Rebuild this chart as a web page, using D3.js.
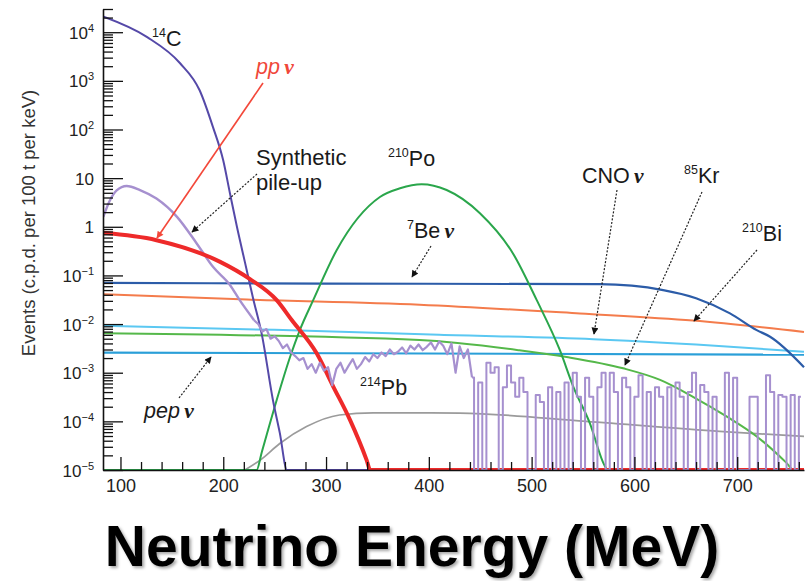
<!DOCTYPE html>
<html><head><meta charset="utf-8">
<script src="https://cdn.jsdelivr.net/npm/d3@7/dist/d3.min.js"></script>
<style>
html,body{margin:0;padding:0;background:#fff;overflow:hidden}
svg{display:block}
text{font-family:"Liberation Sans",Arial,Helvetica,sans-serif}
</style></head><body>
<svg id="chart" width="807" height="581"></svg>
<script>
// ================= DATA =================
const xMajorTicks = [100, 200, 300, 400, 500, 600, 700];
const yTickExponents = [-5, -4, -3, -2, -1, 0, 1, 2, 3, 4];

const c14Energy = [83, 126, 158, 177, 190, 200, 206.5, 213.3, 221, 229, 237.6, 248.3, 255, 262, 765];
const c14Value  = [2.1e4, 7900, 2300, 640, 112, 23, 4.9, 1.0, 0.19, 0.034, 6e-3, 2.75e-4, 5.8e-5, 1e-5, 1e-5];

const ppEnergy = [83, 135, 197, 226, 252, 266.6, 290.9, 307, 323.3, 339.5, 343, 765];
const ppValue  = [0.75, 0.53, 0.19, 0.084, 0.031, 0.0121, 2.5e-3, 5.2e-4, 1.07e-4, 1.6e-5, 1e-5, 1e-5];

const po210Energy = [83, 232.5, 237.4, 252, 265, 274.6, 287.5, 310.3, 352.4, 372, 393, 417.3, 449.7, 482, 505, 527.5, 540.5, 556.7, 571.3, 574, 765];
const po210Value  = [1e-5, 1e-5, 2.3e-5, 2.75e-4, 2.1e-3, 7.6e-3, 0.031, 0.33, 4.1, 6.2, 7.5, 5.7, 1.9, 0.28, 0.031, 2.9e-3, 5.2e-4, 9.1e-5, 1.2e-5, 1e-5, 1e-5];

const be7Energy = [83, 300, 566, 628, 660, 693, 719, 732, 765];
const be7Value  = [0.07, 0.068, 0.066, 0.05, 0.034, 0.0166, 7.5e-3, 5.5e-3, 1.3e-3];

const bi210Energy = [83, 223, 391, 547, 657, 765];
const bi210Value  = [0.041, 0.032, 0.025, 0.0165, 0.0118, 0.0069];

const cnoEnergy = [83, 250, 410, 560, 660, 765];
const cnoValue  = [9.2e-3, 7.6e-3, 6.0e-3, 4.9e-3, 3.8e-3, 2.7e-3];

const pepEnergy = [83, 765];
const pepValue  = [2.6e-3, 2.35e-3];

const kr85Energy = [83, 391, 488, 534, 589, 625, 657, 690, 719, 748, 755, 765];
const kr85Value  = [6.5e-3, 4.7e-3, 2.9e-3, 2.1e-3, 1.23e-3, 7.1e-4, 3.2e-4, 1.25e-4, 4.9e-5, 1.4e-5, 1e-5, 1e-5];

const pb214Energy = [221, 236, 255, 281, 313, 346, 390, 430, 553, 683, 765];
const pb214Value  = [1e-5, 1.6e-5, 3.5e-5, 7.8e-5, 1.35e-4, 1.5e-4, 1.5e-4, 1.48e-4, 1.0e-4, 6.2e-5, 4.9e-5];

const pileupSmoothEnergy = [83.3, 89.8, 96.3, 106, 119, 135, 155, 174, 190, 206.7, 216, 230];
const pileupSmoothValue  = [1.6, 3.5, 5.6, 6.9, 5.7, 3.8, 1.6, 0.46, 0.15, 0.063, 0.031, 0.012];

const pileupNoiseEnergy = [
  230,234,238,242,246,250,254,258,262,266,
  270,274,278,282,286,290,294,298,302,306,
  310,314,318,322,326,330,334,338,342,346,
  350,354,358,362,366,370,374,378,382,386,
  390,394,398,402,406,410,414,418,422,426,
  430,434,438,442];
const pileupNoiseValue = [
  1.2e-2,1.0e-2,7.0e-3,7.9e-3,5.0e-3,5.6e-3,4.5e-3,3.2e-3,3.8e-3,2.6e-3,
  2.2e-3,1.8e-3,2.0e-3,1.2e-3,1.5e-3,1.0e-3,1.6e-3,1.1e-3,1.3e-3,5.5e-4,
  1.2e-3,1.6e-3,1.0e-3,1.4e-3,1.9e-3,1.2e-3,1.5e-3,2.1e-3,1.7e-3,2.4e-3,
  2.0e-3,2.6e-3,2.2e-3,3.0e-3,2.4e-3,2.7e-3,3.3e-3,2.5e-3,3.6e-3,3.0e-3,
  3.8e-3,2.9e-3,3.4e-3,4.2e-3,3.0e-3,4.4e-3,3.6e-3,2.4e-3,4.0e-3,1.0e-3,
  3.5e-3,2.0e-3,3.0e-3,8.0e-4];

const pileupSpikeEnergy = [
  442,446,450,454,458,462,466,
  470,474,478,482,486,490,494,498,502,506,
  510,514,518,522,526,530,534,538,542,546,
  550,554,558,562,566,570,574,578,582,586,
  590,594,598,602,606,610,614,618,622,626,
  630,634,638,642,646,650,654,658,662,666,
  670,674,678,682,686,690,694,698,702,706,
  710,714,718,722,726,730,734,738,742,746,
  750,754,758,762];
const pileupSpikeValue = [
  8.0e-4,1e-5,6.3e-4,1e-5,1.6e-3,1.0e-3,1.3e-3,
  1e-5,5.0e-4,1.4e-3,6.3e-4,3.2e-4,7.9e-4,4.0e-4,1e-5,1e-5,3.5e-4,
  2.5e-4,1e-5,5.0e-4,1e-5,4.0e-4,1e-5,6.3e-4,1e-5,1.0e-3,3.2e-4,
  1e-5,7.9e-4,3.2e-4,1e-5,5.0e-4,1.0e-3,1e-5,1.0e-3,4.0e-4,1e-5,
  7.9e-4,5.0e-4,1e-5,3.2e-4,8.9e-4,1e-5,4.0e-4,1e-5,5.0e-4,3.2e-4,
  1e-5,5.0e-4,1e-5,6.3e-4,3.2e-4,1e-5,4.0e-4,1.0e-3,1e-5,5.6e-4,
  4.0e-4,1e-5,3.2e-4,1e-5,1e-5,1.0e-3,1e-5,7.9e-4,1e-5,1e-5,
  1e-5,3.2e-4,3.2e-4,1e-5,1e-5,8.9e-4,4.0e-4,1e-5,3.5e-4,3.2e-4,
  1e-5,3.5e-4,1e-5,3.2e-4];

// ================= DRAWING =================
const svg = d3.select("#chart");
const x = d3.scaleLinear().domain([83, 765]).range([103, 804]);
const y = d3.scaleLog().domain([1e-5, 3e4]).range([470, 9]);

const defs = svg.append("defs");
defs.append("clipPath").attr("id", "plotClip").append("rect")
  .attr("x", 103).attr("y", 0).attr("width", 704).attr("height", 470);
function marker(id, color) {
  defs.append("marker").attr("id", id).attr("viewBox", "0 0 10 10")
    .attr("refX", 9).attr("refY", 5).attr("markerWidth", 9).attr("markerHeight", 7)
    .attr("markerUnits", "userSpaceOnUse").attr("orient", "auto")
    .append("path").attr("d", "M0,0 L10,5 L0,10 Z").attr("fill", color);
}
marker("arrRed", "#f3483a");
marker("arrBlk", "#111");
const shadow = defs.append("filter").attr("id", "shadow")
  .attr("x", "-3%").attr("y", "-15%").attr("width", "106%").attr("height", "130%");
shadow.append("feDropShadow").attr("dx", 2).attr("dy", 2).attr("stdDeviation", 1.5)
  .attr("flood-color", "#000").attr("flood-opacity", 0.35);

function zip(es, vs) { return es.map((e, i) => ({e: e, v: vs[i]})); }

const smooth = d3.line().x(d => x(d.e)).y(d => y(d.v)).curve(d3.curveMonotoneX);
const jagged = d3.line().x(d => x(d.e)).y(d => y(d.v)).curve(d3.curveLinear);
const stepped = d3.line().x(d => x(d.e)).y(d => y(d.v)).curve(d3.curveStep);

const series = [
  {data: zip(pb214Energy, pb214Value), color: "#9b9b9b", w: 1.7, gen: smooth},
  {data: zip(bi210Energy, bi210Value), color: "#f47c4c", w: 2, gen: smooth},
  {data: zip(cnoEnergy, cnoValue), color: "#5bc8f2", w: 2, gen: smooth},
  {data: zip(pepEnergy, pepValue), color: "#2a9fd8", w: 2.2, gen: smooth},
  {data: zip(kr85Energy, kr85Value), color: "#55b84a", w: 2, gen: smooth},
  {data: zip(be7Energy, be7Value), color: "#2c5ca8", w: 2.2, gen: smooth},
  {data: zip(po210Energy, po210Value), color: "#2aa64b", w: 2, gen: smooth},
  {data: zip(c14Energy, c14Value), color: "#5549a8", w: 2, gen: smooth},
  {data: zip(pileupSmoothEnergy, pileupSmoothValue), color: "#a690cf", w: 2.4, gen: smooth},
  {data: zip(ppEnergy, ppValue), color: "#ee2a2a", w: 4, gen: smooth},
  {data: zip(pileupNoiseEnergy, pileupNoiseValue), color: "#a690cf", w: 2.2, gen: jagged},
  {data: zip(pileupSpikeEnergy, pileupSpikeValue), color: "#a690cf", w: 2, gen: stepped}
];

const plot = svg.append("g").attr("clip-path", "url(#plotClip)");
plot.selectAll("path.series").data(series).join("path")
  .attr("class", "series")
  .attr("d", s => s.gen(s.data))
  .attr("fill", "none")
  .attr("stroke", s => s.color)
  .attr("stroke-width", s => s.w)
  .attr("stroke-linejoin", "round");

// ---- axes ----
const majorY = yTickExponents.map(e => Math.pow(10, e));
const minorY = y.ticks().filter(t => !majorY.some(m => Math.abs(t / m - 1) < 1e-6));
const axisColor = "#111";

const gYminor = svg.append("g").attr("transform", "translate(103,0)")
  .call(d3.axisLeft(y).tickValues(minorY).tickSize(-10).tickSizeOuter(0).tickFormat(""));
const gY = svg.append("g").attr("transform", "translate(103,0)")
  .call(d3.axisLeft(y).tickValues(majorY).tickSize(-20).tickSizeOuter(0).tickFormat(""));
gY.selectAll(".tick text").remove();
gY.selectAll(".tick").each(function(d) {
  const e = Math.round(Math.log10(d));
  const t = d3.select(this).append("text")
    .attr("x", -9).attr("y", 6).attr("text-anchor", "end")
    .attr("fill", "#222").attr("font-size", 17);
  if (e === 0) t.append("tspan").text("1");
  else if (e === 1) t.append("tspan").text("10");
  else {
    t.append("tspan").text("10");
    t.append("tspan").attr("dy", -7).attr("font-size", 11).text(e < 0 ? "\u2212" + (-e) : String(e));
  }
});

const minorX = d3.range(120, 765, 20).filter(v => v % 100 !== 0);
const gXminor = svg.append("g").attr("transform", "translate(0,470)")
  .call(d3.axisBottom(x).tickValues(minorX).tickSize(-8).tickSizeOuter(0).tickFormat(""));
const gX = svg.append("g").attr("transform", "translate(0,470)")
  .call(d3.axisBottom(x).tickValues(xMajorTicks).tickSize(-13).tickSizeOuter(0).tickPadding(9));
gX.selectAll(".tick text").attr("font-size", 18).attr("fill", "#222")
  .attr("font-family", "'Liberation Sans', Arial, sans-serif");

[gYminor, gY, gXminor, gX].forEach(g => {
  g.selectAll(".domain").attr("stroke", axisColor).attr("stroke-width", 1.6);
  g.selectAll(".tick line").attr("stroke", axisColor).attr("stroke-width", 1.3);
});
gXminor.select(".domain").remove();
gYminor.select(".domain").remove();

// y-axis title
svg.append("text")
  .attr("transform", "translate(35,223) rotate(-90)")
  .attr("text-anchor", "middle").attr("font-size", 18.5).attr("fill", "#333")
  .text("Events (c.p.d. per 100 t per keV)");

// ---- annotations ----
const ann = svg.append("g");
function isoLabel(px, py, sup, main, opts) {
  opts = opts || {};
  const size = opts.size || 21.5;
  const t = ann.append("text").attr("x", px).attr("y", py)
    .attr("font-size", size).attr("fill", opts.color || "#1a1a1a");
  if (sup) {
    t.append("tspan").attr("font-size", size * 0.58).attr("dy", -size * 0.42).text(sup);
    t.append("tspan").attr("dy", size * 0.42).text(main);
  } else {
    t.append("tspan").attr("font-style", opts.italic ? "italic" : null).text(main);
  }
  if (opts.nu) {
    t.append("tspan").text("\u2009");
    t.append("tspan").attr("font-family", "'Liberation Serif','Times New Roman',serif")
      .attr("font-style", "italic").attr("font-weight", "bold").text("\u03BD");
  }
  return t;
}
isoLabel(152, 46, "14", "C");
isoLabel(256, 74, null, "pp", {italic: true, nu: true, color: "#f0473a"});
isoLabel(256, 165, null, "Synthetic", {size: 22});
isoLabel(256, 190, null, "pile-up", {size: 22});
isoLabel(388, 166, "210", "Po");
isoLabel(407, 238, "7", "Be", {nu: true});
isoLabel(582, 183, null, "CNO", {nu: true});
isoLabel(684, 183, "85", "Kr");
isoLabel(742, 241, "210", "Bi");
isoLabel(144, 418, null, "pep", {italic: true, nu: true});
isoLabel(360, 395, "214", "Pb");

function arrow(x1, y1, x2, y2, red) {
  ann.append("line").attr("x1", x1).attr("y1", y1).attr("x2", x2).attr("y2", y2)
    .attr("stroke", red ? "#f3483a" : "#222")
    .attr("stroke-width", red ? 1.6 : 1.2)
    .attr("stroke-dasharray", red ? null : "2,1.6")
    .attr("marker-end", red ? "url(#arrRed)" : "url(#arrBlk)");
}
arrow(263, 83, 157, 238, true);
arrow(257, 174, 192, 232);
arrow(431, 246, 412, 277);
arrow(617, 190, 594, 334);
arrow(702, 192, 625, 365);
arrow(757, 250, 694, 321);
arrow(179, 398, 211, 357);

// ---- big title ----
svg.append("text").attr("x", 412).attr("y", 566).attr("text-anchor", "middle")
  .attr("font-size", 57).attr("font-weight", "bold").attr("fill", "#000")
  .attr("filter", "url(#shadow)").text("Neutrino Energy (MeV)");
</script>
</body></html>
